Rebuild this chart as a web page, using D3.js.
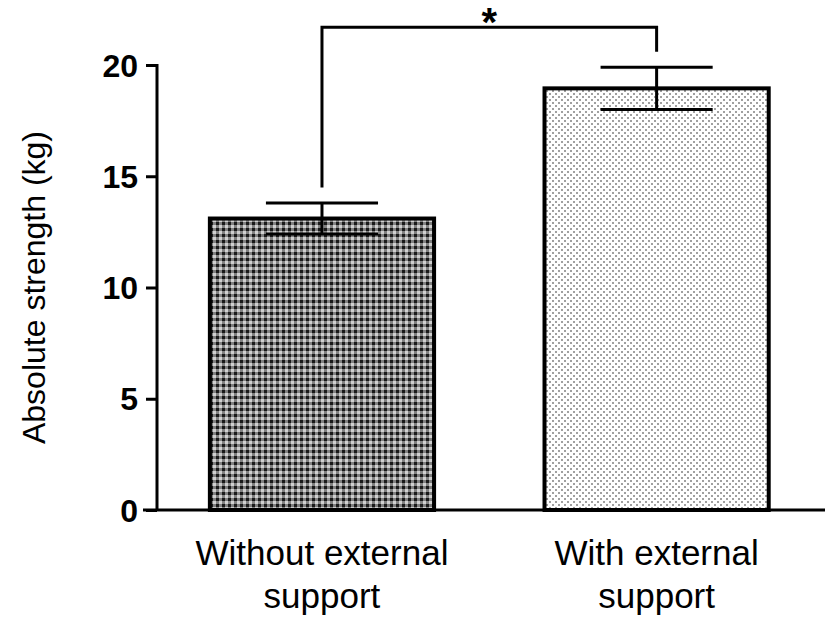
<!DOCTYPE html>
<html>
<head>
<meta charset="utf-8">
<script src="https://cdn.jsdelivr.net/npm/d3@7"></script>
<style>
  html, body { margin: 0; padding: 0; background: #fff; }
  svg { display: block; }
  text { font-family: "Liberation Sans", Arial, sans-serif; fill: #000; }
</style>
</head>
<body>
<svg id="chart" width="827" height="627"></svg>
<script>
// ---- data ----
const categories = [["Without external", "support"], ["With external", "support"]];
const categoryKeys = ["without", "with"];
const means = [13.1, 18.95];
const errors = [0.7, 0.95];
const yTicks = [0, 5, 10, 15, 20];
const yLabel = "Absolute strength (kg)";
const significance = { label: "*", top: 21.7, leftEnd: 14.5, rightEnd: 20.6 };

// ---- layout ----
const svg = d3.select("#chart");
const y = d3.scaleLinear().domain([0, 20]).range([510, 65]);
const x = d3.scaleBand().domain(categoryKeys).range([157, 821.6])
  .paddingInner(0.33).paddingOuter(0.158);

// patterns
const defs = svg.append("defs");
const p1 = defs.append("pattern").attr("id", "dark").attr("patternUnits", "userSpaceOnUse")
  .attr("width", 6).attr("height", 6);
p1.append("rect").attr("width", 6).attr("height", 6).attr("fill", "#808080");
p1.append("rect").attr("x", 0).attr("y", 0).attr("width", 3).attr("height", 3).attr("fill", "#1a1a1a");
p1.append("rect").attr("x", 3).attr("y", 3).attr("width", 3).attr("height", 3).attr("fill", "#d0d0d0");

const p2 = defs.append("pattern").attr("id", "light").attr("patternUnits", "userSpaceOnUse")
  .attr("width", 6).attr("height", 6);
p2.append("rect").attr("width", 6).attr("height", 6).attr("fill", "#ffffff");
p2.append("rect").attr("x", 0).attr("y", 0).attr("width", 2).attr("height", 2).attr("fill", "#a0a0a0");
p2.append("rect").attr("x", 3).attr("y", 3).attr("width", 2).attr("height", 2).attr("fill", "#a0a0a0");

const fills = ["url(#dark)", "url(#light)"];

// bars
svg.selectAll("rect.bar").data(categoryKeys).join("rect")
  .attr("class", "bar")
  .attr("x", d => x(d))
  .attr("width", x.bandwidth())
  .attr("y", (d, i) => y(means[i]))
  .attr("height", (d, i) => y(0) - y(means[i]))
  .attr("fill", (d, i) => fills[i])
  .attr("stroke", "#000")
  .attr("stroke-width", 4);

// error bars
const capHalf = x.bandwidth() * 0.25;
categoryKeys.forEach((k, i) => {
  const cx = x(k) + x.bandwidth() / 2;
  const g = svg.append("g").attr("stroke", "#000").attr("stroke-width", 3).attr("fill", "none");
  g.append("line").attr("x1", cx).attr("x2", cx)
    .attr("y1", y(means[i] + errors[i])).attr("y2", y(means[i] - errors[i]));
  g.append("line").attr("x1", cx - capHalf).attr("x2", cx + capHalf)
    .attr("y1", y(means[i] + errors[i])).attr("y2", y(means[i] + errors[i]));
  g.append("line").attr("x1", cx - capHalf).attr("x2", cx + capHalf)
    .attr("y1", y(means[i] - errors[i])).attr("y2", y(means[i] - errors[i]));
});

// y axis
const yAxis = d3.axisLeft(y).tickValues(yTicks).tickSize(11).tickPadding(8).tickSizeOuter(0);
const ga = svg.append("g").attr("transform", "translate(157,0)").call(yAxis);
ga.attr("font-size", null).attr("font-family", null);
ga.select(".domain").attr("stroke", "#000").attr("stroke-width", 3).attr("d", `M0,${y(0)}V${y(20) - 1}`);
ga.selectAll(".tick line").attr("stroke", "#000").attr("stroke-width", 3);
ga.selectAll(".tick text")
  .style("font-size", "32px").style("font-weight", "bold")
  .style("font-family", "'Liberation Sans', Arial, sans-serif").attr("fill", "#000")
  .attr("dy", "0.35em");

// x axis line
svg.append("line").attr("x1", 143).attr("x2", 825).attr("y1", y(0)).attr("y2", y(0))
  .attr("stroke", "#000").attr("stroke-width", 3);

// category labels
categoryKeys.forEach((k, i) => {
  const cx = x(k) + x.bandwidth() / 2;
  const t = svg.append("text").attr("text-anchor", "middle").style("font-size", "35px");
  categories[i].forEach((line, j) => {
    t.append("tspan").attr("x", cx).attr("y", 565 + j * 43).text(line);
  });
});

// y label
svg.append("text").attr("transform", `translate(45,${(y(0) + y(20)) / 2}) rotate(-90)`)
  .attr("text-anchor", "middle").style("font-size", "32px").text(yLabel);

// significance bracket
const bx1 = x(categoryKeys[0]) + x.bandwidth() / 2;
const bx2 = x(categoryKeys[1]) + x.bandwidth() / 2;
svg.append("path")
  .attr("d", `M${bx1},${y(significance.leftEnd)}V${y(significance.top)}H${bx2}V${y(significance.rightEnd)}`)
  .attr("fill", "none").attr("stroke", "#000").attr("stroke-width", 3);
svg.append("text").attr("x", (bx1 + bx2) / 2).attr("y", 36)
  .attr("text-anchor", "middle").style("font-size", "40px").style("font-weight", "bold")
  .text(significance.label);
</script>
</body>
</html>
